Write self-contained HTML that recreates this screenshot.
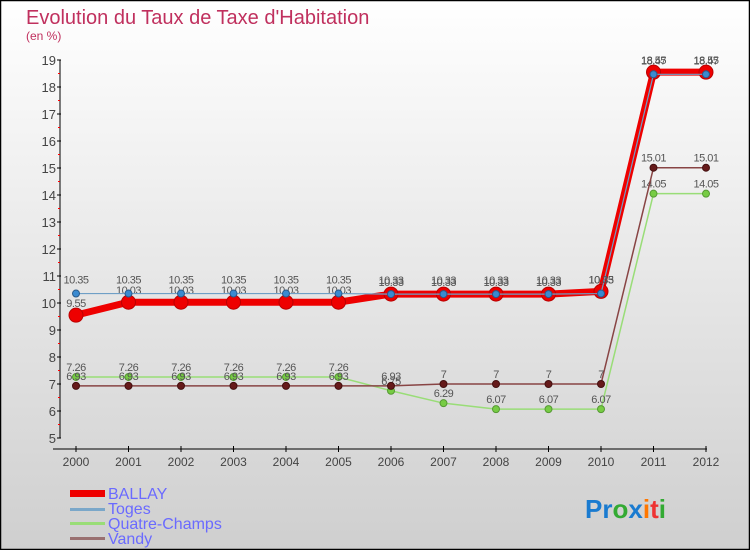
<!DOCTYPE html>
<html><head><meta charset="utf-8"><style>
body{margin:0;width:750px;height:550px;overflow:hidden;font-family:"Liberation Sans",sans-serif}
</style></head><body>
<svg id="chart" width="750" height="550" xmlns="http://www.w3.org/2000/svg" font-family="Liberation Sans, sans-serif">
<defs><linearGradient id="bg" x1="0" y1="0" x2="0" y2="1"><stop offset="0" stop-color="#ffffff"/><stop offset="1" stop-color="#cfcfcf"/></linearGradient></defs>
<rect x="0.5" y="0.5" width="749" height="549" fill="url(#bg)" stroke="#000" stroke-width="1.5"/>
<text x="26" y="24" font-size="20" fill="#c0305e">Evolution du Taux de Taxe d'Habitation</text>
<text x="26" y="40" font-size="12" fill="#c0305e">(en %)</text>
<g id="axes"></g><g id="series"></g>
<g font-size="16" fill="#6a6aff">
<rect x="70" y="490" width="35" height="7" fill="#e00"/>
<text x="108" y="499">BALLAY</text>
<rect x="70" y="508" width="35" height="3" fill="#7aa7c9"/>
<text x="108" y="514">Toges</text>
<rect x="70" y="522" width="35" height="3" fill="#99dd77"/>
<text x="108" y="529">Quatre-Champs</text>
<rect x="70" y="537" width="35" height="3" fill="#997070"/>
<text x="108" y="544">Vandy</text>
</g>
<text x="585" y="518" font-size="26" font-weight="bold"><tspan fill="#1a7bd0">Pr</tspan><tspan fill="#3a3">o</tspan><tspan fill="#1a7bd0">x</tspan><tspan fill="#f70">i</tspan><tspan fill="#e33">t</tspan><tspan fill="#3a3">i</tspan></text>
</svg>
<script>
const years=[2000,2001,2002,2003,2004,2005,2006,2007,2008,2009,2010,2011,2012];
const yTicks=[5,6,7,8,9,10,11,12,13,14,15,16,17,18,19];
const ballay=[9.55,10.03,10.03,10.03,10.03,10.03,10.33,10.33,10.33,10.33,10.43,18.55,18.55];
const toges=[10.35,10.35,10.35,10.35,10.35,10.35,10.33,10.33,10.33,10.33,10.35,18.47,18.47];
const quatre=[7.26,7.26,7.26,7.26,7.26,7.26,6.75,6.29,6.07,6.07,6.07,14.05,14.05];
const vandy=[6.93,6.93,6.93,6.93,6.93,6.93,6.93,7,7,7,7,15.01,15.01];
const NS="http://www.w3.org/2000/svg";
const X=i=>76+i*(706-76)/12;
const Y=v=>438-(v-5)*27;
function el(t,a,p){const e=document.createElementNS(NS,t);for(const k in a)e.setAttribute(k,a[k]);p.appendChild(e);return e;}
const ax=document.getElementById('axes');
const yl=el('line',{x1:60,y1:Y(19),x2:60,y2:Y(5),stroke:'#000'},ax);


const xl=el('line',{x1:53,y1:449,x2:707,y2:449,stroke:'#000'},ax);


yTicks.forEach(v=>{
 el('line',{x1:57,x2:61,y1:Y(v),y2:Y(v),stroke:'#000'},ax);
 if(v<19)el('line',{x1:58,x2:60,y1:Y(v+0.5),y2:Y(v+0.5),stroke:'#f00'},ax);
 const t=el('text',{x:56,y:Y(v)+5,'text-anchor':'end','font-size':13,fill:'#444'},ax);
 
 
 t.textContent=v;
});
years.forEach((yr,i)=>{
 el('line',{x1:X(i),x2:X(i),y1:446,y2:452,stroke:'#000'},ax);
 const t=el('text',{x:X(i),y:466,'text-anchor':'middle','font-size':12,fill:'#444'},ax);
 
 
 t.textContent=yr;
});
const sg=document.getElementById('series');
function draw(name,data,color,w,r,fill,stroke,labelDy){
 const g=el('g',{},sg);
 
 
 const pl=el('polyline',{points:data.map((v,i)=>X(i)+','+Y(v)).join(' '),fill:'none',stroke:color,'stroke-width':w,'stroke-linejoin':'round'},g);
 
 
 data.forEach((v,i)=>{
  const c=el('circle',{cx:X(i),cy:Y(v),r:r,fill:fill,stroke:stroke},g);
  
  
  const t=el('text',{x:X(i),y:Y(v)+labelDy,'text-anchor':'middle','font-size':11,fill:'#555','letter-spacing':'-0.5'},g);
  
  
  t.textContent=v;
 });
}
draw('quatre-champs',quatre,'#99dd77',1.5,3.5,'#77cc44','#559933',-6);
draw('vandy',vandy,'#884444',1.5,3.5,'#661a1a','#441010',-6);
draw('ballay',ballay,'#ee0000',7,7,'#ee0000','#bb0000',-8);
draw('toges',toges,'#6f9fc6',1.2,3.5,'#3a8ad0','#2a5a8a',-10);
</script>
</body></html>
